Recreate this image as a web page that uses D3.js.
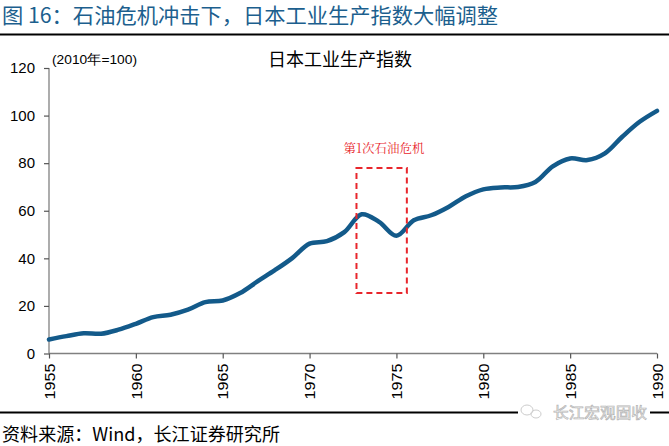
<!DOCTYPE html>
<html><head><meta charset="utf-8">
<script src="https://cdn.jsdelivr.net/npm/d3@7"></script>
<style>body{margin:0;background:#fff}svg{display:block}</style>
</head><body>
<svg id="c" width="669" height="446"></svg>
<script>
const years = [1955,1956,1957,1958,1959,1960,1961,1962,1963,1964,1965,1966,1967,1968,1969,1970,1971,1972,1973,1974,1975,1976,1977,1978,1979,1980,1981,1982,1983,1984,1985,1986,1987,1988,1989,1990];
const index = [5.9,7.3,8.5,8.3,10,12.5,15.3,16.3,18.4,21.6,22.3,25.4,30.3,35,40.1,46.2,47.2,51,58.5,55.3,49.5,56,58.1,61.6,66.1,69,69.8,70,72.1,78.7,82,81.3,84.1,91.1,97.4,102];
const yTicks = [0,20,40,60,80,100,120];
const xTicks = [1955,1960,1965,1970,1975,1980,1985,1990];
const crisisBox = {x0:1972.7, x1:1975.6, y0:25.4, y1:78};

const svg = d3.select("#c");
const x = d3.scaleLinear().domain([1955,1990]).range([49,657]);
const y = d3.scaleLinear().domain([0,120]).range([353.5,68]);
const F = "'Liberation Sans', Arial, sans-serif";
const CJK = "'Noto Sans CJK SC', sans-serif";

// title
svg.append("text").attr("x",2).attr("y",23).attr("font-family",CJK).attr("font-size",21)
  .attr("fill","#1c5f8e").attr("textLength",496).attr("lengthAdjust","spacingAndGlyphs")
  .text("图 16：石油危机冲击下，日本工业生产指数大幅调整");
svg.append("line").attr("x1",0).attr("x2",669).attr("y1",34.5).attr("y2",34.5).attr("stroke","#000").attr("stroke-width",2.2);
svg.append("line").attr("x1",0).attr("x2",669).attr("y1",412.5).attr("y2",412.5).attr("stroke","#000").attr("stroke-width",2.2);

// axes
const ya = svg.append("g").attr("transform","translate(49,0)")
  .call(d3.axisLeft(y).tickValues(yTicks).tickSize(5).tickPadding(9).tickFormat(d3.format("d")));
const xa = svg.append("g").attr("transform","translate(0,353.5)")
  .call(d3.axisBottom(x).tickValues(xTicks).tickSize(5).tickFormat(d3.format("d")));
[ya,xa].forEach(g=>{
  g.select(".domain").attr("stroke","#808080").attr("stroke-width",1.3);
  g.selectAll(".tick line").attr("stroke","#555").attr("stroke-width",1.2);
  g.selectAll("text").attr("font-family",F).attr("fill","#000");
});
ya.selectAll(".tick text").attr("font-size",15);
ya.select(".domain").attr("d","M-0,353.5V68");
xa.select(".domain").attr("d","M49,0H657");
xa.selectAll(".tick text").attr("font-size",15).attr("transform","rotate(-90)").attr("text-anchor","end")
  .attr("x",-10).attr("y",0).attr("dy","0.35em").attr("textLength",36).attr("lengthAdjust","spacingAndGlyphs");

// labels
svg.append("text").attr("x",52).attr("y",64).attr("font-family",F).attr("font-size",13.5)
  .attr("textLength",85).attr("lengthAdjust","spacingAndGlyphs").text("(2010年=100)");
svg.append("text").attr("x",340).attr("y",66).attr("text-anchor","middle").attr("font-family",CJK).attr("font-size",18).text("日本工业生产指数");

// line
const line = d3.line().x((d,i)=>x(years[i])).y(d=>y(d)).curve(d3.curveCatmullRom.alpha(0.5));
svg.append("path").datum(index).attr("d",line).attr("fill","none").attr("stroke","#135a8a")
  .attr("stroke-width",4.5).attr("stroke-linecap","round").attr("stroke-linejoin","round");

// crisis box
svg.append("rect").attr("x",x(crisisBox.x0)).attr("y",y(crisisBox.y1))
  .attr("width",x(crisisBox.x1)-x(crisisBox.x0)).attr("height",y(crisisBox.y0)-y(crisisBox.y1))
  .attr("fill","none").attr("stroke","#e8262c").attr("stroke-width",2).attr("stroke-dasharray","6,4");
svg.append("text").attr("x",384).attr("y",153).attr("text-anchor","middle")
  .attr("font-family","'Noto Serif CJK SC','Noto Sans CJK SC',serif").attr("font-size",12.5).attr("fill","#e8262c").text("第1次石油危机");

// footer
svg.append("text").attr("x",2).attr("y",441).attr("font-family",CJK).attr("font-size",18)
  .attr("textLength",278).attr("lengthAdjust","spacingAndGlyphs").text("资料来源：Wind，长江证券研究所");

// watermark
const wm = svg.append("g");
wm.append("rect").attr("x",518).attr("y",403).attr("width",132).attr("height",18).attr("fill","#fff");
wm.append("ellipse").attr("cx",527).attr("cy",410).attr("rx",6).attr("ry",5).attr("fill","none").attr("stroke","#ccc").attr("stroke-width",1);
wm.append("ellipse").attr("cx",536).attr("cy",414).attr("rx",5).attr("ry",4).attr("fill","none").attr("stroke","#ccc").attr("stroke-width",1);
wm.append("text").attr("x",553).attr("y",418).attr("font-family",CJK).attr("font-size",15)
  .attr("textLength",94).attr("lengthAdjust","spacingAndGlyphs")
  .attr("fill","#fff").attr("stroke","#b5b5b5").attr("stroke-width",0.7).text("长江宏观固收");
</script>
</body></html>
